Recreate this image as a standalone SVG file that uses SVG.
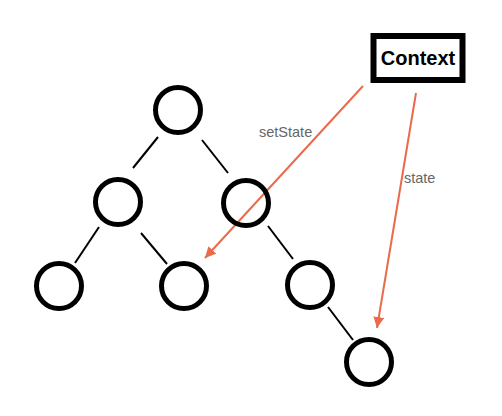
<svg xmlns="http://www.w3.org/2000/svg" width="502" height="416" viewBox="0 0 502 416">
<style>
.node{fill:none;stroke:#000;stroke-width:5}
.edge{stroke:#000;stroke-width:2;fill:none}
.ctx{stroke:#EA6A4C;stroke-width:2;fill:none}
.lbl{font-family:"Liberation Sans",Arial,sans-serif;font-size:14.5px;fill:#666}
.title{font-family:"Liberation Sans",Arial,sans-serif;font-size:20px;font-weight:bold;fill:#000}
</style>
<defs>
<marker id="ah" viewBox="0 0 10 10" refX="10" refY="5" markerWidth="5.5" markerHeight="5.5" orient="auto" markerUnits="strokeWidth">
<path d="M0,0 L10,5 L0,10 Z" fill="#EA6A4C"/>
</marker>
</defs>
<rect width="502" height="416" fill="#fff"/>
<g id="connectors">
<line class="edge" x1="158" y1="137" x2="133" y2="168"/>
<line class="edge" x1="202" y1="140" x2="228" y2="173"/>
<line class="edge" x1="99" y1="227" x2="75" y2="263"/>
<line class="edge" x1="141" y1="233" x2="167" y2="264"/>
<line class="edge" x1="268" y1="226" x2="293" y2="259"/>
<line class="edge" x1="328" y1="307" x2="353" y2="340"/>
<line class="ctx" x1="363" y1="86" x2="205" y2="258" marker-end="url(#ah)"/>
<line class="ctx" x1="416" y1="93" x2="377" y2="328" marker-end="url(#ah)"/>
<text class="lbl" x="259" y="137">setState</text>
<text class="lbl" x="404" y="183">state</text>
</g>
<g id="root"><circle class="node" cx="178" cy="110" r="22.5"/></g>
<g id="mid-left"><circle class="node" cx="118" cy="202" r="22.5"/></g>
<g id="mid-right"><circle class="node" cx="246" cy="203" r="22.5"/></g>
<g id="leaf-1"><circle class="node" cx="59" cy="286" r="22.5"/></g>
<g id="leaf-2"><circle class="node" cx="184" cy="286" r="22.5"/></g>
<g id="leaf-3"><circle class="node" cx="310" cy="285" r="22.5"/></g>
<g id="leaf-4"><circle class="node" cx="369" cy="362" r="22.5"/></g>
<g id="context">
<rect x="373.5" y="36" width="89" height="44" fill="#fff" stroke="#000" stroke-width="6"/>
<text class="title" x="418" y="65" text-anchor="middle">Context</text>
</g>
</svg>
